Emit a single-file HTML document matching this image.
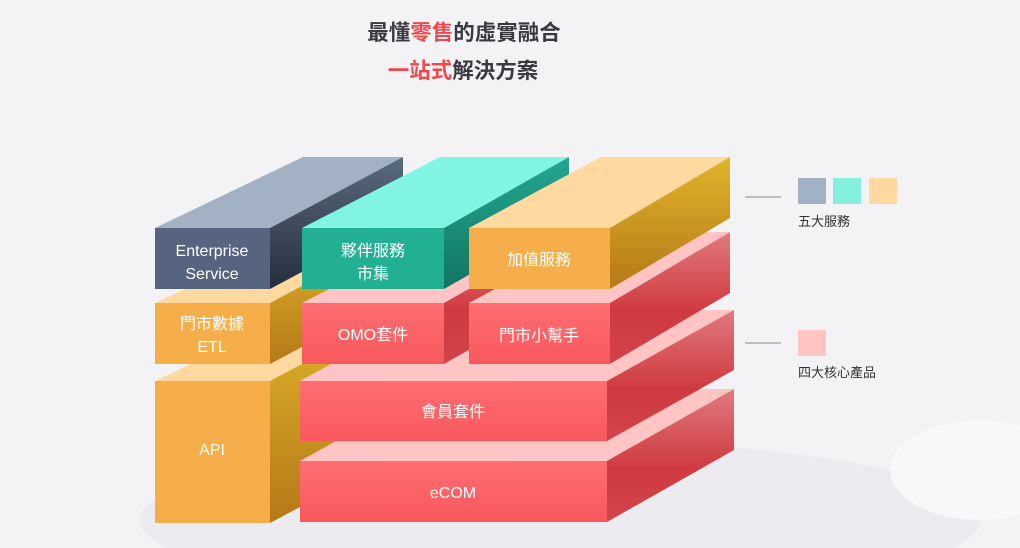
<!DOCTYPE html>
<html><head><meta charset="utf-8"><style>
html,body{margin:0;padding:0;background:#f3f3f6;width:1020px;height:548px;overflow:hidden;}
svg{display:block;}
text{font-family:"Liberation Sans","Noto Sans CJK TC",sans-serif;}
</style></head><body>
<svg width="1020" height="548" viewBox="0 0 1020 548" xmlns="http://www.w3.org/2000/svg">
<defs>
<linearGradient id="sS" x1="0" y1="0" x2="0" y2="1"><stop offset="0" stop-color="#5a6a80"/><stop offset="1" stop-color="#262e3c"/></linearGradient>
<linearGradient id="sT" x1="0" y1="0" x2="0" y2="1"><stop offset="0" stop-color="#22a88f"/><stop offset="1" stop-color="#127562"/></linearGradient>
<linearGradient id="sG" x1="0" y1="0" x2="0" y2="1"><stop offset="0" stop-color="#e0b52a"/><stop offset="1" stop-color="#b57818"/></linearGradient>
<linearGradient id="sR" x1="0" y1="0" x2="0" y2="1"><stop offset="0" stop-color="#e07a7c"/><stop offset="0.6" stop-color="#cf3a40"/><stop offset="1" stop-color="#d0444a"/></linearGradient>
<linearGradient id="fR" x1="0" y1="0" x2="0" y2="1"><stop offset="0" stop-color="#ff6e72"/><stop offset="1" stop-color="#f7585c"/></linearGradient>
</defs>
<ellipse cx="560" cy="520" rx="420" ry="80" fill="#ececf0"/>
<ellipse cx="980" cy="470" rx="90" ry="50" fill="#f8f8fa"/>

<text x="464" y="40" font-size="21.5" font-weight="bold" fill="#3a3a40" text-anchor="middle">最懂<tspan fill="#f2474c">零售</tspan>的虛實融合</text>
<text x="463" y="78" font-size="21.5" font-weight="bold" fill="#3a3a40" text-anchor="middle"><tspan fill="#f2474c">一站式</tspan>解決方案</text>

<!-- API -->
<polygon points="155,381 270,381 403,310 303,310" fill="#ffd9a0"/>
<polygon points="270,381 403,310 403,452 270,523" fill="url(#sG)"/>
<rect x="155" y="381" width="115" height="142" fill="#f5ae4a"/>
<text x="212" y="455" font-size="16" fill="#fff" text-anchor="middle">API</text>

<!-- eCOM -->
<polygon points="300,461 607,461 734,389 430,389" fill="#ffc4c4"/>
<polygon points="607,461 734,389 734,450 607,522" fill="url(#sR)"/>
<rect x="300" y="461" width="307" height="61" fill="url(#fR)"/>
<text x="453" y="498" font-size="16" fill="#fff" text-anchor="middle">eCOM</text>

<!-- member -->
<polygon points="300,381 607,381 734,310 430,310" fill="#ffc4c4"/>
<polygon points="607,381 734,310 734,370 607,441" fill="url(#sR)"/>
<rect x="300" y="381" width="307" height="60" fill="url(#fR)"/>
<text x="453" y="417" font-size="16" fill="#fff" text-anchor="middle">會員套件</text>

<!-- ETL -->
<polygon points="155,303 270,303 403,232 303,232" fill="#ffd9a0"/>
<polygon points="270,303 403,232 403,293 270,364" fill="url(#sG)"/>
<rect x="155" y="303" width="115" height="61" fill="#f5ae4a"/>
<text x="212" y="329" font-size="16" fill="#fff" text-anchor="middle">門市數據</text>
<text x="212" y="352" font-size="16" fill="#fff" text-anchor="middle">ETL</text>

<!-- OMO -->
<polygon points="302,303 444,303 569,232 440,232" fill="#ffc4c4"/>
<polygon points="444,303 569,232 569,293 444,364" fill="url(#sR)"/>
<rect x="302" y="303" width="142" height="61" fill="url(#fR)"/>
<text x="373" y="340" font-size="16" fill="#fff" text-anchor="middle">OMO套件</text>

<!-- store helper -->
<polygon points="469,303 610,303 730,232 601,232" fill="#ffc4c4"/>
<polygon points="610,303 730,232 730,293 610,364" fill="url(#sR)"/>
<rect x="469" y="303" width="141" height="61" fill="url(#fR)"/>
<text x="539" y="341" font-size="16" fill="#fff" text-anchor="middle">門市小幫手</text>

<!-- Enterprise -->
<polygon points="155,228 270,228 403,157 303,157" fill="#a3b1c4"/>
<polygon points="270,228 403,157 403,218 270,289" fill="url(#sS)"/>
<rect x="155" y="228" width="115" height="61" fill="#56647f"/>
<text x="212" y="256" font-size="16" fill="#fff" text-anchor="middle">Enterprise</text>
<text x="212" y="279" font-size="16" fill="#fff" text-anchor="middle">Service</text>

<!-- teal -->
<polygon points="302,228 444,228 569,157 440,157" fill="#7ff5e2"/>
<polygon points="444,228 569,157 569,218 444,289" fill="url(#sT)"/>
<rect x="302" y="228" width="142" height="61" fill="#22b093"/>
<text x="373" y="256" font-size="16" fill="#fff" text-anchor="middle">夥伴服務</text>
<text x="373" y="279" font-size="16" fill="#fff" text-anchor="middle">市集</text>

<!-- gold -->
<polygon points="469,228 610,228 730,157 601,157" fill="#ffd9a0"/>
<polygon points="610,228 730,157 730,218 610,289" fill="url(#sG)"/>
<rect x="469" y="228" width="141" height="61" fill="#f5ae4a"/>
<text x="539" y="265" font-size="16" fill="#fff" text-anchor="middle">加值服務</text>

<!-- legend -->
<line x1="745" y1="197" x2="781" y2="197" stroke="#888" stroke-width="1"/>
<rect x="798" y="178" width="28" height="26" fill="#a3b1c6"/>
<rect x="833" y="178" width="28" height="26" fill="#86f0df"/>
<rect x="869" y="178" width="28" height="26" fill="#ffd9a0"/>
<text x="798" y="226" font-size="13" fill="#333">五大服務</text>
<line x1="745" y1="343" x2="781" y2="343" stroke="#888" stroke-width="1"/>
<rect x="798" y="330" width="28" height="26" fill="#ffc4c4"/>
<text x="798" y="377" font-size="13" fill="#333">四大核心產品</text>
</svg>
</body></html>
